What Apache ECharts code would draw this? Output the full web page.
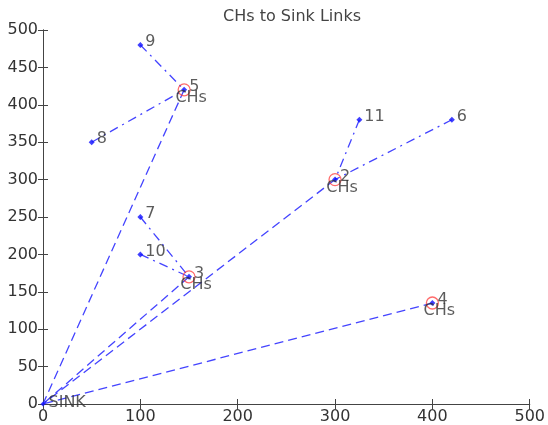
<!DOCTYPE html>
<html>
<head>
<meta charset="utf-8">
<script src="https://cdn.jsdelivr.net/npm/echarts@6/dist/echarts.min.js"></script>
<style>html,body{margin:0;padding:0;background:#fff}#c{width:548px;height:425px}</style>
</head>
<body>
<div id="c"></div>
<script>
const titleText = 'CHs to Sink Links';
const sink = [0, 0];
const chIds = [5, 2, 3, 4];
const chX = [145, 300, 150, 400];
const chY = [420, 300, 170, 135];
const memberIds = [9, 8, 11, 6, 7, 10];
const memberX = [100, 50, 325, 420, 100, 100];
const memberY = [480, 350, 380, 380, 250, 200];
const memberCH = [5, 5, 2, 2, 3, 3];
const xTicks = [0, 100, 200, 300, 400, 500];
const yTicks = [0, 50, 100, 150, 200, 250, 300, 350, 400, 450, 500];

const lineColor = 'rgba(35,35,255,0.85)';
const font = 'DejaVu Sans, sans-serif';
const txt = '#333';
const fs = 16;
const series = [];

// CH -> sink links (dashed)
chIds.forEach((id, i) => {
  series.push({
    type: 'line', data: [[chX[i], chY[i]], sink], symbol: 'none', silent: true,
    lineStyle: { color: lineColor, width: 1.3, type: [9, 5] }, z: 2
  });
});
// member -> CH links (dash-dot)
memberIds.forEach((id, i) => {
  const k = chIds.indexOf(memberCH[i]);
  series.push({
    type: 'line', data: [[memberX[i], memberY[i]], [chX[k], chY[k]]], symbol: 'none', silent: true,
    lineStyle: { color: lineColor, width: 1.3, type: [9, 5, 2, 5] }, z: 2
  });
});
// CH red circles
series.push({
  type: 'scatter', symbol: 'circle', symbolSize: 12, z: 3,
  itemStyle: { color: 'rgba(0,0,0,0)', borderColor: 'rgba(255,50,50,0.9)', borderWidth: 1.3 },
  data: chIds.map((id, i) => [chX[i], chY[i]])
});
// CH blue dots + id labels
series.push({
  type: 'scatter', symbol: 'diamond', symbolSize: 6, z: 4,
  itemStyle: { color: '#1010ff' },
  label: { show: true, position: 'right', distance: 2, offset: [0, -3], color: txt, fontSize: fs, fontFamily: font, formatter: p => String(chIds[p.dataIndex]) },
  data: chIds.map((id, i) => [chX[i], chY[i]])
});
// CHs labels
series.push({
  type: 'scatter', symbol: 'circle', symbolSize: 0, z: 4,
  label: { show: true, position: 'bottom', distance: 0, offset: [7, 0], color: txt, fontSize: fs, fontFamily: font, formatter: 'CHs' },
  data: chIds.map((id, i) => [chX[i], chY[i]])
});
// members
series.push({
  type: 'scatter', symbol: 'diamond', symbolSize: 6, z: 4,
  itemStyle: { color: '#1010ff' },
  label: { show: true, position: 'right', distance: 2, offset: [0, -3], color: txt, fontSize: fs, fontFamily: font, formatter: p => String(memberIds[p.dataIndex]) },
  data: memberIds.map((id, i) => [memberX[i], memberY[i]])
});
// sink
series.push({
  type: 'scatter', symbol: 'diamond', symbolSize: 5, z: 4,
  itemStyle: { color: '#1010ff' },
  label: { show: true, position: 'right', distance: 3, offset: [0, -1], color: txt, fontSize: fs, fontFamily: font, formatter: 'SINK' },
  data: [sink]
});

const axisLine = { show: true, lineStyle: { color: '#444', width: 1 } };
const tick = { show: true, inside: true, length: 5, lineStyle: { color: '#444' } };
const chart = echarts.init(document.getElementById('c'), null, { renderer: 'canvas' });
chart.setOption({
  animation: false,
  backgroundColor: '#fff',
  title: { text: titleText, left: 287, textAlign: 'center', top: 4, textStyle: { fontSize: 16, fontWeight: 'normal', color: '#444', fontFamily: font } },
  grid: { left: 43, right: 18, top: 30, bottom: 20, containLabel: false },
  xAxis: [
    { type: 'value', min: xTicks[0], max: xTicks[xTicks.length - 1], interval: 100, axisLine, axisTick: tick, splitLine: { show: false },
      axisLabel: { color: txt, fontSize: fs, fontFamily: font, margin: 5 } },
    { type: 'value', position: 'top', min: 0, max: 500, interval: 100, axisLine, axisTick: tick, splitLine: { show: false }, axisLabel: { show: false } }
  ],
  yAxis: [
    { type: 'value', min: yTicks[0], max: yTicks[yTicks.length - 1], interval: 50, axisLine, axisTick: tick, splitLine: { show: false },
      axisLabel: { color: txt, fontSize: fs, fontFamily: font, margin: 5 } },
    { type: 'value', position: 'right', min: 0, max: 500, interval: 50, axisLine, axisTick: tick, splitLine: { show: false }, axisLabel: { show: false } }
  ],
  series
});
</script>
</body>
</html>
